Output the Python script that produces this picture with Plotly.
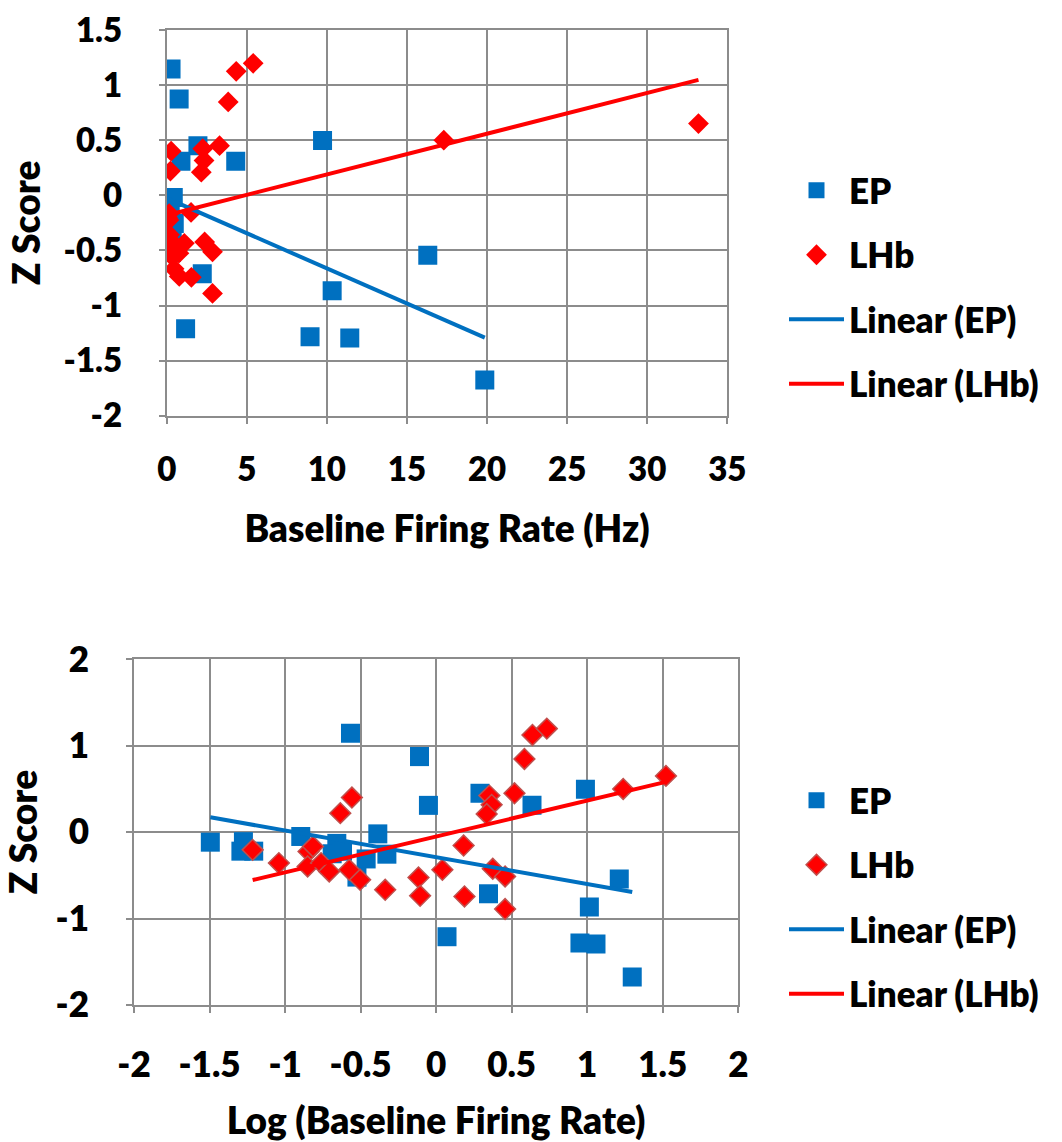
import numpy as np
import plotly.graph_objects as go

# ---- data ----
ep_rate = [0.032, 0.053, 0.051, 0.062, 0.127, 0.22, 0.205, 0.24, 0.344, 0.299, 0.411, 0.472,
           0.271, 0.776, 0.889, 1.95, 4.31, 9.73, 2.22, 1.18, 8.95, 11.43, 10.33, 16.3, 19.86]
ep_z = [-0.116, -0.11, -0.22, -0.22, -0.05, -0.13, -0.25, -0.22, -0.31, -0.52, -0.02, -0.255,
        1.145, 0.874, 0.31, 0.45, 0.31, 0.497, -0.713, -1.21, -1.283, -1.295, -0.867, -0.543, -1.676]

lhb_rate = [0.061, 0.091, 0.143, 0.153, 0.141, 0.173, 0.196, 0.232, 0.277, 0.266, 0.314, 0.46,
            0.764, 0.783, 1.10, 1.52, 1.54, 2.25, 2.33, 2.16, 2.37, 2.86, 2.86, 3.30, 3.84,
            4.34, 5.40, 17.3, 33.2]
lhb_z = [-0.205, -0.358, -0.224, -0.166, -0.397, -0.358, -0.455, 0.22, 0.40, -0.436, -0.551, -0.667,
         -0.525, -0.736, -0.436, -0.155, -0.744, 0.423, 0.316, 0.21, -0.424, -0.513, -0.89, 0.45, 0.847,
         1.125, 1.198, 0.50, 0.651]

top_xticks = [0, 5, 10, 15, 20, 25, 30, 35]
top_yticks = [1.5, 1, 0.5, 0, -0.5, -1, -1.5, -2]
bot_xticks = [-2, -1.5, -1, -0.5, 0, 0.5, 1, 1.5, 2]
bot_yticks = [2, 1, 0, -1, -2]

BLUE = "#0070C0"
RED = "#FF0000"
GRID = "#8c8c8c"
FONT = "Lato"
WEIGHT = 800


def trend(x, y):
    x = np.asarray(x, float)
    y = np.asarray(y, float)
    m, b = np.polyfit(x, y, 1)
    xs = np.array([x.min(), x.max()])
    return xs, m * xs + b


fig = go.Figure()

# ---- top chart ----
fig.add_trace(go.Scatter(x=ep_rate, y=ep_z, mode="markers", name="EP", legend="legend",
                         legendgroup="a",
                         marker=dict(symbol="square", size=19, color=BLUE), xaxis="x", yaxis="y"))
fig.add_trace(go.Scatter(x=lhb_rate, y=lhb_z, mode="markers", name="LHb", legend="legend",
                         legendgroup="b",
                         marker=dict(symbol="diamond", size=16, color=RED), xaxis="x", yaxis="y"))
tx, ty = trend(ep_rate, ep_z)
fig.add_trace(go.Scatter(x=tx, y=ty, mode="lines", name="Linear (EP)", legend="legend",
                         legendgroup="c",
                         line=dict(color=BLUE, width=4), xaxis="x", yaxis="y"))
tx, ty = trend(lhb_rate, lhb_z)
fig.add_trace(go.Scatter(x=tx, y=ty, mode="lines", name="Linear (LHb)", legend="legend",
                         legendgroup="d",
                         line=dict(color=RED, width=4), xaxis="x", yaxis="y"))

# ---- bottom chart ----
ep_log = np.log10(ep_rate)
lhb_log = np.log10(lhb_rate)
fig.add_trace(go.Scatter(x=ep_log, y=ep_z, mode="markers", name="EP", legend="legend2",
                         legendgroup="e",
                         marker=dict(symbol="square", size=19, color=BLUE), xaxis="x2", yaxis="y2"))
fig.add_trace(go.Scatter(x=lhb_log, y=lhb_z, mode="markers", name="LHb", legend="legend2",
                         legendgroup="f",
                         marker=dict(symbol="diamond", size=16, color=RED,
                                     line=dict(color="#C0504D", width=1.5)),
                         xaxis="x2", yaxis="y2"))
tx, ty = trend(ep_log, ep_z)
fig.add_trace(go.Scatter(x=tx, y=ty, mode="lines", name="Linear (EP)", legend="legend2",
                         legendgroup="g",
                         line=dict(color=BLUE, width=4), xaxis="x2", yaxis="y2"))
tx, ty = trend(lhb_log, lhb_z)
fig.add_trace(go.Scatter(x=tx, y=ty, mode="lines", name="Linear (LHb)", legend="legend2",
                         legendgroup="h",
                         line=dict(color=RED, width=4), xaxis="x2", yaxis="y2"))

W, H = 1062, 1142
axis_common = dict(showgrid=True, gridcolor=GRID, gridwidth=2, showline=True, linecolor=GRID,
                   linewidth=2, mirror=True, ticks="outside", ticklen=6, tickcolor=GRID,
                   tickwidth=2, zeroline=False, fixedrange=True, automargin=False)

tick_font = dict(family=FONT, size=33, color="black", weight=WEIGHT)
title_font = dict(family=FONT, size=37, color="black", weight=WEIGHT)
bot_tick_font = dict(family=FONT, size=35, color="black", weight=WEIGHT)
bot_title_font = dict(family=FONT, size=37, color="black", weight=WEIGHT)
leg_font = dict(family=FONT, size=35, color="black", weight=WEIGHT)

fig.update_layout(
    width=W, height=H,
    margin=dict(l=0, r=0, t=0, b=0, autoexpand=False),
    paper_bgcolor="white", plot_bgcolor="white",
    showlegend=True,
    xaxis=dict(domain=[166.7 / W, 727.3 / W], anchor="y", range=[0, 35],
               tickvals=top_xticks, ticktext=[str(v) for v in top_xticks],
               tickfont=tick_font, ticklabelstandoff=18,
               title=dict(text="Baseline Firing Rate (Hz)", font=title_font, standoff=29),
               **axis_common),
    yaxis=dict(domain=[1 - 415.7 / H, 1 - 30 / H], anchor="x", range=[-2, 1.5],
               tickvals=top_yticks, ticktext=[f"{v:g}" for v in top_yticks],
               tickfont=tick_font, ticklabelstandoff=30,
               title=dict(text="Z Score", font=title_font, standoff=12),
               **axis_common),
    xaxis2=dict(domain=[134 / W, 738.3 / W], anchor="y2", range=[-2, 2],
                tickvals=bot_xticks, ticktext=[f"{v:g}" for v in bot_xticks],
                tickfont=bot_tick_font, ticklabelstandoff=22,
                title=dict(text="Log (Baseline Firing Rate)", font=bot_title_font, standoff=25),
                **axis_common),
    yaxis2=dict(domain=[1 - 1005 / H, 1 - 659.3 / H], anchor="x2", range=[-2, 2],
                tickvals=bot_yticks, ticktext=[f"{v:g}" for v in bot_yticks],
                tickfont=bot_tick_font, ticklabelstandoff=30,
                title=dict(text="Z Score", font=bot_title_font, standoff=12),
                **axis_common),
    legend=dict(x=784 / W, y=1 - 161 / H, xanchor="left", yanchor="top",
                font=leg_font, tracegroupgap=16, itemwidth=55, bgcolor="rgba(0,0,0,0)"),
    legend2=dict(x=784 / W, y=1 - 771 / H, xanchor="left", yanchor="top",
                 font=leg_font, tracegroupgap=16, itemwidth=55, bgcolor="rgba(0,0,0,0)"),
)

fig.write_html("out.html")
